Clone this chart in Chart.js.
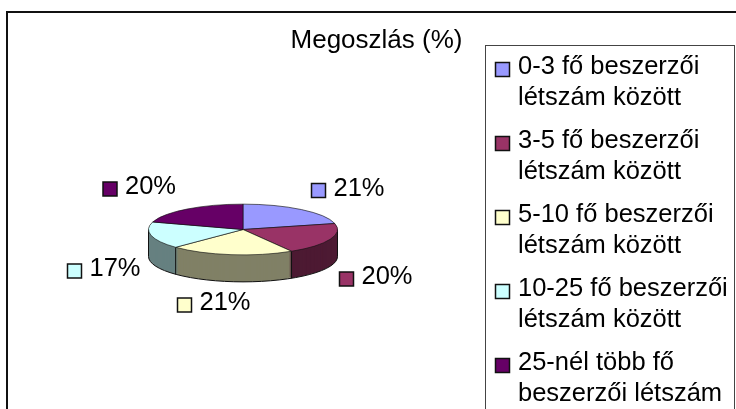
<!DOCTYPE html>
<html><head><meta charset="utf-8">
<style>html,body{margin:0;padding:0;background:#fff;overflow:hidden}canvas{display:block}</style>
<script src="https://cdn.jsdelivr.net/npm/chart.js@4/dist/chart.umd.min.js"></script>
</head><body><canvas id="c" width="736" height="409"></canvas>
<script>
const categories = ["0-3 fő beszerzői létszám között","3-5 fő beszerzői létszám között","5-10 fő beszerzői létszám között","10-25 fő beszerzői létszám között","25-nél több fő beszerzői létszám"];
const legendLines = [["0-3 fő beszerzői","létszám között"],["3-5 fő beszerzői","létszám között"],["5-10 fő beszerzői","létszám között"],["10-25 fő beszerzői","létszám között"],["25-nél több fő","beszerzői létszám"]];
const shares = [21,20,21,17,20];
const colors = ["#9999FF","#993366","#FFFFCC","#CCFFFF","#660066"];
const sideColors = ["#4d4d80","#4d1a33","#808066","#668080","#330033"];
const labelAnchors = [[318.5,190.5],[346.5,279],[184.5,305],[74.5,271],[110,189]];
const FONT = '25.5px "Liberation Sans", Arial, sans-serif';
const TITLE_FONT = '26px "Liberation Sans", Arial, sans-serif';
const cx=243, cy=229.5, squash=25.5/95, depth=27;

const page = {id:'page',beforeDraw(ch){
  const x=ch.ctx; x.save();
  x.fillStyle='#fff'; x.fillRect(0,0,736,409);
  x.strokeStyle='#111'; x.lineWidth=2;
  x.beginPath(); x.moveTo(7,420); x.lineTo(7,12); x.lineTo(736,12); x.stroke();
  x.strokeStyle='#444'; x.lineWidth=1; x.strokeRect(485.5,45.5,249,380);
  x.restore();
}};
const pie3d = {id:'pie3d',
  beforeDatasetsDraw(ch){
    const x=ch.ctx, arcs=ch.getDatasetMeta(0).data;
    x.save();
    for(let d=depth;d>0;d--){
      x.save(); x.translate(cx,cy+d); x.scale(1,squash); x.translate(-arcs[0].x,-arcs[0].y);
      arcs.forEach((a,i)=>{
        x.fillStyle=sideColors[i]; x.beginPath();
        x.moveTo(a.x,a.y); x.arc(a.x,a.y,a.outerRadius,a.startAngle,a.endAngle); x.closePath(); x.fill();
      });
      x.restore();
    }
    const a0=arcs[0];
    x.strokeStyle='#111'; x.lineWidth=1;
    x.beginPath(); x.ellipse(cx,cy+depth,a0.outerRadius,a0.outerRadius*squash,0,0,Math.PI); x.stroke();
    x.beginPath(); x.moveTo(cx-a0.outerRadius,cy); x.lineTo(cx-a0.outerRadius,cy+depth);
    x.moveTo(cx+a0.outerRadius,cy); x.lineTo(cx+a0.outerRadius,cy+depth);
    arcs.forEach(a=>{
      const px=cx+a.outerRadius*Math.cos(a.endAngle), py=cy+a.outerRadius*squash*Math.sin(a.endAngle);
      if(Math.sin(a.endAngle)>0){x.moveTo(px,py);x.lineTo(px,py+depth);}
    });
    x.stroke();
    x.restore();
    x.save(); x.translate(cx,cy); x.scale(1,squash); x.translate(-a0.x,-a0.y);
  },
  afterDatasetsDraw(ch){
    const x=ch.ctx; x.restore();
    x.save();
    x.font=FONT; x.textBaseline='middle'; x.textAlign='left';
    shares.forEach((v,i)=>{
      const [lx,ly]=labelAnchors[i];
      x.fillStyle=colors[i]; x.strokeStyle='#111'; x.lineWidth=1.5;
      x.fillRect(lx-7,ly-7,14,14); x.strokeRect(lx-7,ly-7,14,14);
      x.fillStyle='#000';
      x.fillText(v+'%',lx+15,ly-2);
    });
    let y=69.5;
    legendLines.forEach((ls,i)=>{
      x.fillStyle=colors[i]; x.strokeStyle='#111'; x.lineWidth=1.5;
      x.fillRect(495.5,y-7,14,14); x.strokeRect(495.5,y-7,14,14);
      x.fillStyle='#000';
      ls.forEach((t,j)=>x.fillText(t,518,y-3+j*31.5));
      y+=74;
    });
    x.restore();
  }
};
new Chart(document.getElementById('c'),{
  type:'pie',
  data:{labels:categories,datasets:[{data:shares,backgroundColor:colors,borderColor:'#111',borderWidth:1}]},
  options:{responsive:false,animation:false,
    layout:{padding:{left:0,right:736-190,top:12,bottom:409-12-190}},
    plugins:{legend:{display:false},tooltip:{enabled:false},title:{display:false}}},
  plugins:[page,pie3d,{id:'ttl',afterDraw(ch){const x=ch.ctx;x.save();x.font=TITLE_FONT;x.fillStyle='#000';x.textAlign='center';x.textBaseline='middle';x.fillText('Megoszlás (%)',376.5,40.5);x.restore();}}]
});
</script></body></html>
